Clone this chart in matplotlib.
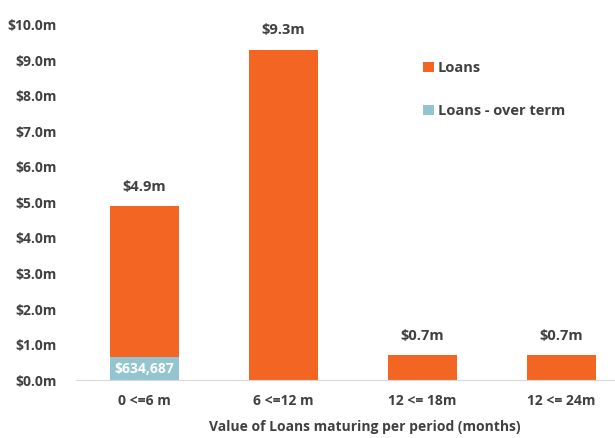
import numpy as np
import matplotlib.pyplot as plt
from matplotlib.ticker import FuncFormatter

# Données
categories = ['0 <=6 m', '6 <=12 m', '12 <= 18m', '12 <= 24m']
over_term = [0.634687, 0, 0, 0]
loans = [4.265313, 9.3, 0.7, 0.7]
totals = ['$4.9m', '$9.3m', '$0.7m', '$0.7m']

orange = '#F26522'
teal = '#93C5D0'
text_col = '#404040'

plt.rcParams['font.family'] = ['Open Sans', 'DejaVu Sans']
plt.rcParams['font.weight'] = 'bold'

fig = plt.figure(figsize=(6.15, 4.38), dpi=100)
ax = fig.add_axes([0.124, 0.1324, 0.876, 0.8106])

x = np.arange(len(categories))
b1 = ax.bar(x, over_term, width=0.5, color=teal, label='Loans - over term')
b2 = ax.bar(x, loans, width=0.5, bottom=over_term, color=orange, label='Loans')

# Etiketler
for xi, lo, ot, t in zip(x, loans, over_term, totals):
    ax.text(xi, lo + ot + 0.35, t, ha='center', va='bottom', fontsize=10.5,
            color=text_col, fontweight='bold')
ax.text(x[0], over_term[0] / 2, '$634,687', ha='center', va='center',
        fontsize=10, color='white', fontweight='bold')

ax.set_ylim(0, 10)
ax.set_xlim(-0.49, 3.385)
ax.set_yticks(np.arange(0, 11, 1))
ax.yaxis.set_major_formatter(FuncFormatter(lambda v, p: '$%.1fm' % v))
ax.set_xticks(x)
ax.set_xticklabels(categories)
ax.tick_params(length=0, labelsize=10, colors=text_col)
ax.tick_params(axis='y', pad=14)
ax.tick_params(axis='x', pad=10)
ax.set_xlabel('Value of Loans maturing per period (months)', fontsize=10,
              color=text_col, fontweight='bold')
ax.xaxis.set_label_coords(0.536, -0.112)

for s in ['top', 'right', 'left']:
    ax.spines[s].set_visible(False)
ax.spines['bottom'].set_color('#D9D9D9')

ax.legend(handles=[b2, b1], loc='upper left', bbox_to_anchor=(0.62, 0.935),
          frameon=False, fontsize=10.5, handlelength=0.7, handleheight=0.7,
          handletextpad=0.3, labelspacing=2.0, labelcolor=text_col)

fig.savefig('out.png', dpi=100)
